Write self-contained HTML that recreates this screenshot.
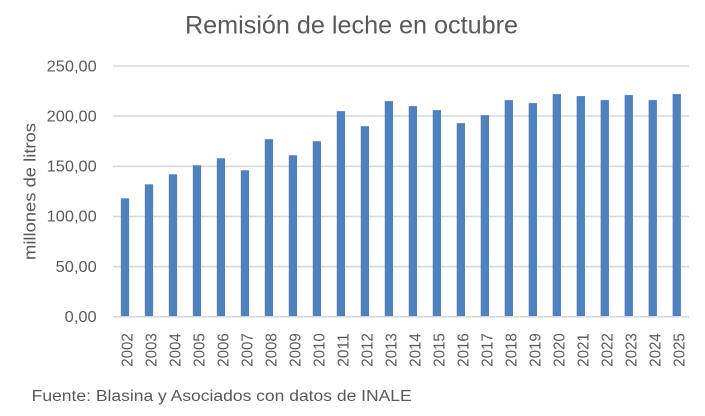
<!DOCTYPE html>
<html><head><meta charset="utf-8"><style>
html,body{margin:0;padding:0;background:#fff;}
svg{display:block;}
text{font-family:"Liberation Sans",Arial,sans-serif;fill:#595959;}
</style></head><body>
<svg width="705" height="416" viewBox="0 0 705 416" xmlns="http://www.w3.org/2000/svg">
<rect width="705" height="416" fill="#fff"/>
<text x="351.5" y="33.5" font-size="25" text-anchor="middle" textLength="333" lengthAdjust="spacingAndGlyphs">Remisión de leche en octubre</text>
<g stroke="#D9D9D9" stroke-width="1.6">
<line x1="113" x2="689" y1="66" y2="66"/>
<line x1="113" x2="689" y1="116.1" y2="116.1"/>
<line x1="113" x2="689" y1="166.3" y2="166.3"/>
<line x1="113" x2="689" y1="216.4" y2="216.4"/>
<line x1="113" x2="689" y1="266.6" y2="266.6"/>
</g>
<g font-size="15.5" text-anchor="end">
<text x="96.7" y="71.3" textLength="50" lengthAdjust="spacingAndGlyphs">250,00</text>
<text x="96.7" y="121.4" textLength="50" lengthAdjust="spacingAndGlyphs">200,00</text>
<text x="96.7" y="171.6" textLength="50" lengthAdjust="spacingAndGlyphs">150,00</text>
<text x="96.7" y="221.7" textLength="50" lengthAdjust="spacingAndGlyphs">100,00</text>
<text x="96.7" y="271.9" textLength="41" lengthAdjust="spacingAndGlyphs">50,00</text>
<text x="96.7" y="322" textLength="32" lengthAdjust="spacingAndGlyphs">0,00</text>
</g>
<text transform="translate(35.5,191.5) rotate(-90)" font-size="16.5" text-anchor="middle" textLength="137" lengthAdjust="spacingAndGlyphs">millones de litros</text>
<g fill="#4F81BD">
<rect x="120.85" y="198.37" width="8.3" height="118.33"/>
<rect x="144.84" y="184.33" width="8.3" height="132.37"/>
<rect x="168.83" y="174.30" width="8.3" height="142.40"/>
<rect x="192.82" y="165.28" width="8.3" height="151.42"/>
<rect x="216.81" y="158.26" width="8.3" height="158.44"/>
<rect x="240.80" y="170.29" width="8.3" height="146.41"/>
<rect x="264.79" y="139.20" width="8.3" height="177.50"/>
<rect x="288.78" y="155.25" width="8.3" height="161.45"/>
<rect x="312.77" y="141.21" width="8.3" height="175.49"/>
<rect x="336.76" y="111.13" width="8.3" height="205.57"/>
<rect x="360.75" y="126.17" width="8.3" height="190.53"/>
<rect x="384.74" y="101.10" width="8.3" height="215.60"/>
<rect x="408.73" y="106.11" width="8.3" height="210.59"/>
<rect x="432.72" y="110.12" width="8.3" height="206.58"/>
<rect x="456.71" y="123.16" width="8.3" height="193.54"/>
<rect x="480.70" y="115.14" width="8.3" height="201.56"/>
<rect x="504.69" y="100.10" width="8.3" height="216.60"/>
<rect x="528.68" y="103.10" width="8.3" height="213.60"/>
<rect x="552.67" y="94.08" width="8.3" height="222.62"/>
<rect x="576.66" y="96.08" width="8.3" height="220.62"/>
<rect x="600.65" y="100.10" width="8.3" height="216.60"/>
<rect x="624.64" y="95.08" width="8.3" height="221.62"/>
<rect x="648.63" y="100.10" width="8.3" height="216.60"/>
<rect x="672.62" y="94.08" width="8.3" height="222.62"/>
</g>
<line x1="113" x2="689" y1="316.8" y2="316.8" stroke="#D9D9D9" stroke-width="1.6"/>
<g font-size="15.5" text-anchor="end">
<text transform="translate(132.60,333.3) rotate(-90)" textLength="33.5" lengthAdjust="spacingAndGlyphs">2002</text>
<text transform="translate(156.59,333.3) rotate(-90)" textLength="33.5" lengthAdjust="spacingAndGlyphs">2003</text>
<text transform="translate(180.58,333.3) rotate(-90)" textLength="33.5" lengthAdjust="spacingAndGlyphs">2004</text>
<text transform="translate(204.57,333.3) rotate(-90)" textLength="33.5" lengthAdjust="spacingAndGlyphs">2005</text>
<text transform="translate(228.56,333.3) rotate(-90)" textLength="33.5" lengthAdjust="spacingAndGlyphs">2006</text>
<text transform="translate(252.55,333.3) rotate(-90)" textLength="33.5" lengthAdjust="spacingAndGlyphs">2007</text>
<text transform="translate(276.54,333.3) rotate(-90)" textLength="33.5" lengthAdjust="spacingAndGlyphs">2008</text>
<text transform="translate(300.53,333.3) rotate(-90)" textLength="33.5" lengthAdjust="spacingAndGlyphs">2009</text>
<text transform="translate(324.52,333.3) rotate(-90)" textLength="33.5" lengthAdjust="spacingAndGlyphs">2010</text>
<text transform="translate(348.51,333.3) rotate(-90)" textLength="33.5" lengthAdjust="spacingAndGlyphs">2011</text>
<text transform="translate(372.50,333.3) rotate(-90)" textLength="33.5" lengthAdjust="spacingAndGlyphs">2012</text>
<text transform="translate(396.49,333.3) rotate(-90)" textLength="33.5" lengthAdjust="spacingAndGlyphs">2013</text>
<text transform="translate(420.48,333.3) rotate(-90)" textLength="33.5" lengthAdjust="spacingAndGlyphs">2014</text>
<text transform="translate(444.47,333.3) rotate(-90)" textLength="33.5" lengthAdjust="spacingAndGlyphs">2015</text>
<text transform="translate(468.46,333.3) rotate(-90)" textLength="33.5" lengthAdjust="spacingAndGlyphs">2016</text>
<text transform="translate(492.45,333.3) rotate(-90)" textLength="33.5" lengthAdjust="spacingAndGlyphs">2017</text>
<text transform="translate(516.44,333.3) rotate(-90)" textLength="33.5" lengthAdjust="spacingAndGlyphs">2018</text>
<text transform="translate(540.43,333.3) rotate(-90)" textLength="33.5" lengthAdjust="spacingAndGlyphs">2019</text>
<text transform="translate(564.42,333.3) rotate(-90)" textLength="33.5" lengthAdjust="spacingAndGlyphs">2020</text>
<text transform="translate(588.41,333.3) rotate(-90)" textLength="33.5" lengthAdjust="spacingAndGlyphs">2021</text>
<text transform="translate(612.40,333.3) rotate(-90)" textLength="33.5" lengthAdjust="spacingAndGlyphs">2022</text>
<text transform="translate(636.39,333.3) rotate(-90)" textLength="33.5" lengthAdjust="spacingAndGlyphs">2023</text>
<text transform="translate(660.38,333.3) rotate(-90)" textLength="33.5" lengthAdjust="spacingAndGlyphs">2024</text>
<text transform="translate(684.37,333.3) rotate(-90)" textLength="33.5" lengthAdjust="spacingAndGlyphs">2025</text>
</g>
<text x="31.7" y="401" font-size="15.5" textLength="380" lengthAdjust="spacingAndGlyphs">Fuente: Blasina y Asociados con datos de INALE</text>
</svg>
</body></html>
